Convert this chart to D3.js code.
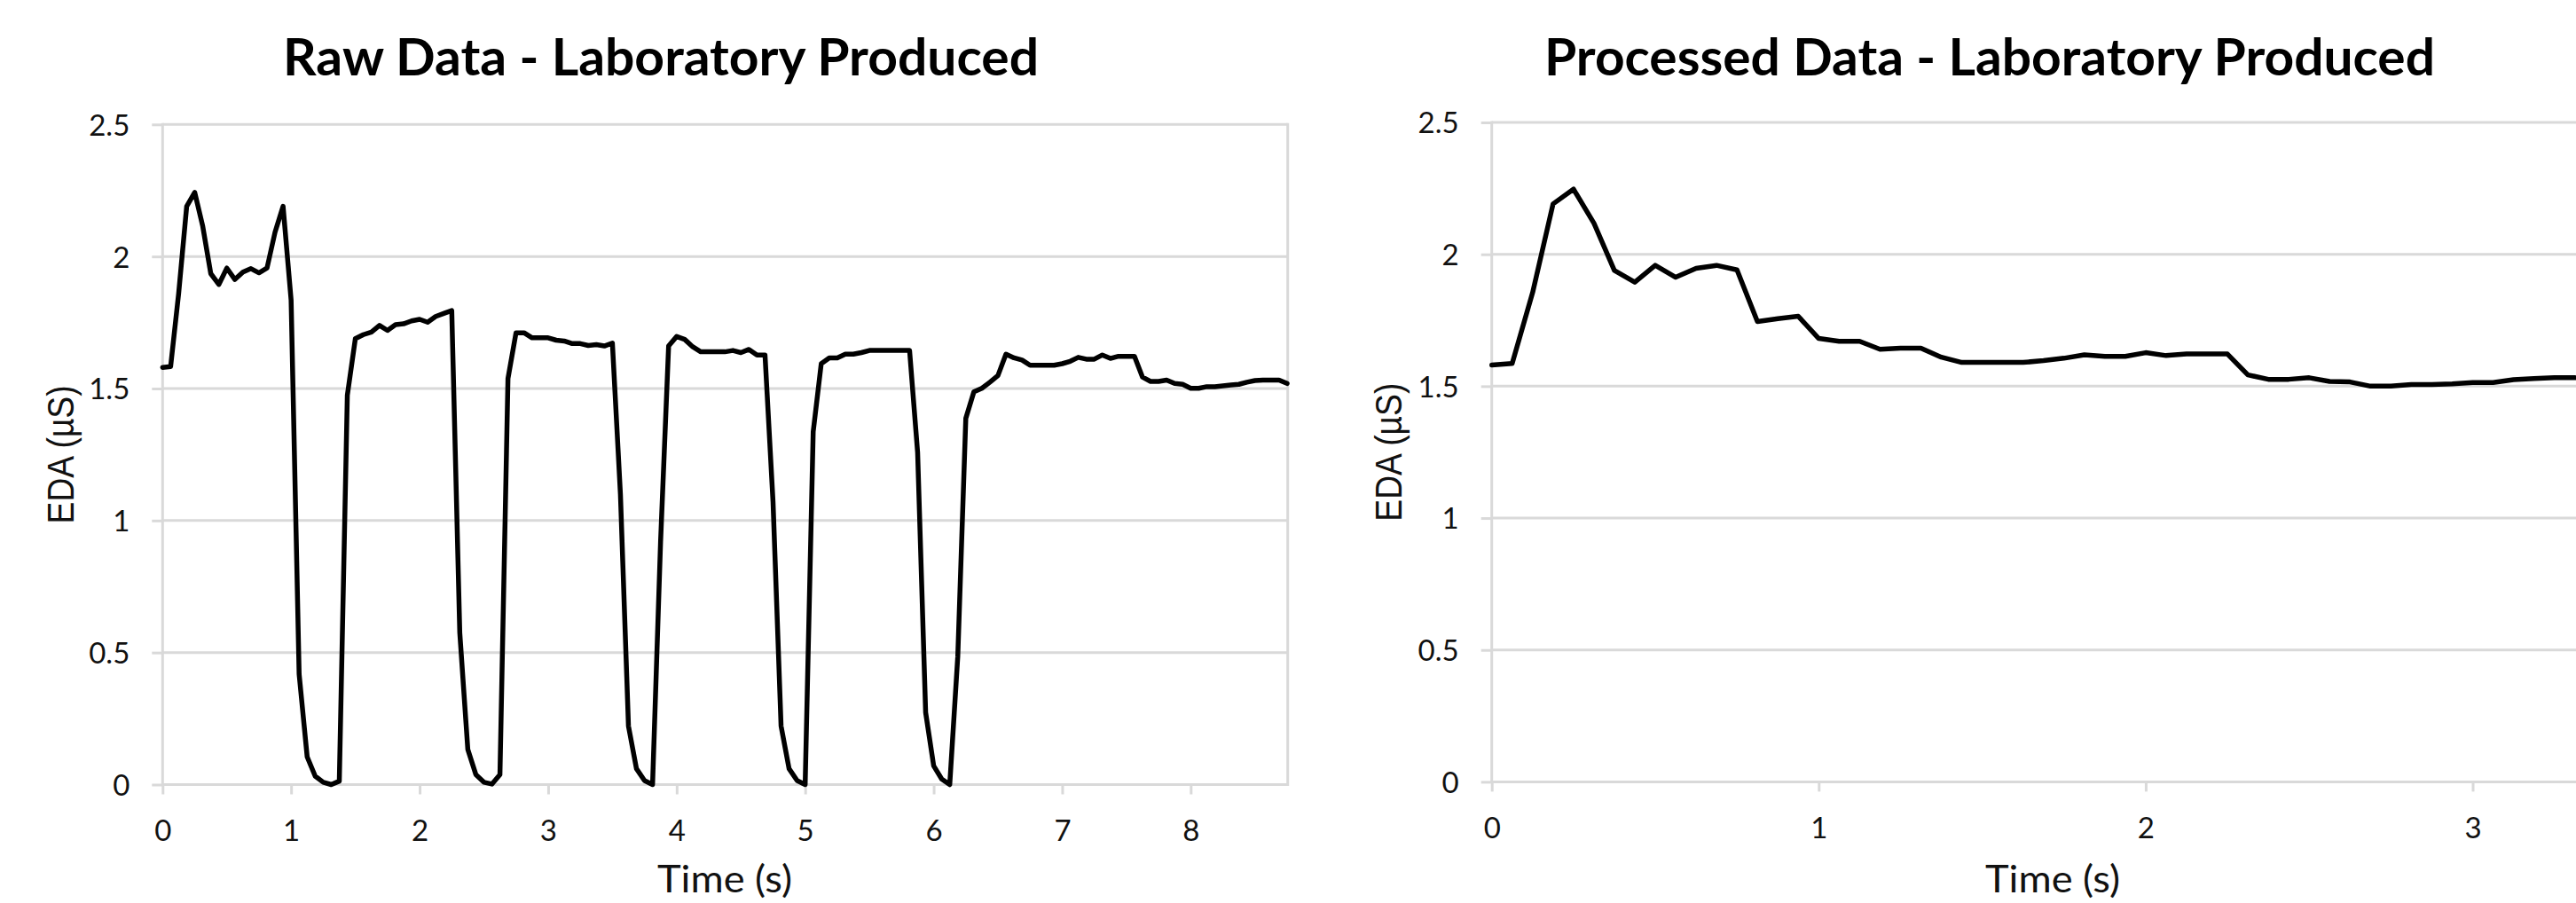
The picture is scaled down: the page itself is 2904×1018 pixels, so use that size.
<!DOCTYPE html>
<html>
<head>
<meta charset="utf-8">
<script src="https://cdn.jsdelivr.net/npm/d3@7"></script>
<style>
  html, body { margin: 0; padding: 0; background: #ffffff; overflow: hidden; }
  svg { display: block; }
</style>
</head>
<body>
<svg id="chart" width="2904" height="1018"></svg>
<script>
// ---------------- DATA ----------------
const SAMPLE_INTERVAL = 0.0625; // seconds between samples (16 Hz)

const rawTitle = "Raw Data - Laboratory Produced";
const processedTitle = "Processed Data - Laboratory Produced";
const xAxisTitle = "Time (s)";
const yAxisTitle = "EDA (\u00b5S)";

const yTicks = [0, 0.5, 1, 1.5, 2, 2.5];
const rawXTicks = [0, 1, 2, 3, 4, 5, 6, 7, 8];
const processedXTicks = [0, 1, 2, 3];

const rawEDA = [
  1.580, 1.583, 1.860, 2.190, 2.243, 2.114, 1.935, 1.894, 1.956, 1.913,
  1.941, 1.954, 1.938, 1.956, 2.092, 2.190, 1.835, 0.418, 0.105, 0.032,
  0.009, 0.000, 0.013, 1.474, 1.689, 1.704, 1.714, 1.739, 1.720, 1.742,
  1.745, 1.756, 1.762, 1.751, 1.773, 1.784, 1.795, 0.575, 0.133, 0.038,
  0.009, 0.002, 0.038, 1.538, 1.711, 1.711, 1.692, 1.692, 1.692, 1.683,
  1.680, 1.670, 1.670, 1.663, 1.666, 1.661, 1.672, 1.100, 0.222, 0.060,
  0.015, 0.000, 0.920, 1.661, 1.697, 1.686, 1.658, 1.639, 1.639, 1.639,
  1.639, 1.644, 1.636, 1.648, 1.627, 1.627, 1.070, 0.222, 0.060, 0.015,
  0.000, 1.336, 1.594, 1.616, 1.616, 1.630, 1.630, 1.636, 1.644, 1.644,
  1.644, 1.644, 1.644, 1.644, 1.258, 0.273, 0.071, 0.021, 0.000, 0.485,
  1.387, 1.487, 1.501, 1.524, 1.549, 1.630, 1.616, 1.608, 1.588, 1.588,
  1.588, 1.588, 1.594, 1.603, 1.618, 1.611, 1.611, 1.627, 1.614, 1.622,
  1.622, 1.622, 1.543, 1.527, 1.527, 1.532, 1.519, 1.516, 1.501, 1.501,
  1.507, 1.507, 1.510, 1.513, 1.516, 1.524, 1.530, 1.532, 1.532, 1.532,
  1.519
];

const processedEDA = [
  1.580, 1.586, 1.855, 2.191, 2.247, 2.118, 1.939, 1.894, 1.958, 1.913,
  1.947, 1.958, 1.941, 1.745, 1.756, 1.765, 1.681, 1.670, 1.670, 1.640,
  1.644, 1.644, 1.610, 1.590, 1.590, 1.590, 1.590, 1.597, 1.606, 1.619,
  1.613, 1.613, 1.627, 1.616, 1.622, 1.622, 1.622, 1.543, 1.526, 1.526,
  1.532, 1.518, 1.516, 1.500, 1.500, 1.506, 1.506, 1.509, 1.514, 1.514,
  1.525, 1.529, 1.532, 1.532
];

// ---------------- DRAW ----------------
const svg = d3.select("#chart");
const GRID = "#d9d9d9";
const TEXT = "#111111";

function drawChart(cfg) {
  const g = svg.append("g");
  const x = d3.scaleLinear().domain(cfg.xDomain).range([cfg.left, cfg.right]);
  const y = d3.scaleLinear().domain([0, 2.5]).range([cfg.bottom, cfg.top]);

  // horizontal gridlines
  g.append("g").selectAll("line").data(yTicks).join("line")
    .attr("x1", cfg.left).attr("x2", cfg.right)
    .attr("y1", d => y(d)).attr("y2", d => y(d))
    .attr("stroke", GRID).attr("stroke-width", 3);

  // vertical axis line
  g.append("line")
    .attr("x1", cfg.left).attr("x2", cfg.left)
    .attr("y1", y(2.5) - 1.5).attr("y2", y(0) + 1.5)
    .attr("stroke", GRID).attr("stroke-width", 3);

  if (cfg.rightBorder) {
    g.append("line")
      .attr("x1", cfg.right).attr("x2", cfg.right)
      .attr("y1", y(2.5) - 1.5).attr("y2", y(0) + 1.5)
      .attr("stroke", GRID).attr("stroke-width", 3);
  }

  // y axis
  const yAxis = g.append("g")
    .attr("transform", `translate(${cfg.left},0)`)
    .call(d3.axisLeft(y).tickValues(yTicks).tickSize(12).tickPadding(25)
      .tickFormat(d => String(d)));
  yAxis.select(".domain").remove();
  yAxis.selectAll(".tick line").attr("stroke", GRID).attr("stroke-width", 3);
  yAxis.selectAll(".tick text")
    .attr("fill", TEXT).attr("font-family", "Lato, 'Open Sans', sans-serif")
    .attr("font-size", 33).attr("dy", "0.36em");

  // x axis
  const xAxis = g.append("g")
    .attr("transform", `translate(0,${cfg.bottom})`)
    .call(d3.axisBottom(x).tickValues(cfg.xTicks).tickSize(11).tickPadding(29)
      .tickFormat(d => String(d)));
  xAxis.select(".domain").remove();
  xAxis.selectAll(".tick line").attr("stroke", GRID).attr("stroke-width", 3);
  xAxis.selectAll(".tick text")
    .attr("fill", TEXT).attr("font-family", "Lato, 'Open Sans', sans-serif")
    .attr("font-size", 33);

  // data line
  const line = d3.line()
    .x((d, i) => x(i * SAMPLE_INTERVAL))
    .y(d => y(d));
  g.append("path")
    .datum(cfg.values)
    .attr("d", line)
    .attr("fill", "none")
    .attr("stroke", "#000")
    .attr("stroke-width", 5.5)
    .attr("stroke-linejoin", "round")
    .attr("stroke-linecap", "round");

  // title
  g.append("text")
    .attr("x", cfg.titleX).attr("y", 85)
    .attr("text-anchor", "middle")
    .attr("font-family", "Lato, 'Open Sans', sans-serif")
    .attr("font-weight", 700)
    .attr("font-size", 57)
    .attr("fill", "#000")
    .attr("textLength", cfg.titleLen)
    .attr("lengthAdjust", "spacingAndGlyphs")
    .text(cfg.title);

  // x axis title
  g.append("text")
    .attr("x", cfg.xTitleX).attr("y", 1006)
    .attr("text-anchor", "middle")
    .attr("font-family", "Lato, 'Open Sans', sans-serif")
    .attr("font-size", 42)
    .attr("fill", TEXT)
    .attr("textLength", 152)
    .attr("lengthAdjust", "spacingAndGlyphs")
    .text(xAxisTitle);

  // y axis title
  g.append("text")
    .attr("transform", `translate(${cfg.yTitleX},${(y(0) + y(2.5)) / 2}) rotate(-90)`)
    .attr("text-anchor", "middle")
    .attr("dy", "0.35em")
    .attr("font-family", "'Liberation Sans', Arial, sans-serif")
    .attr("font-size", 42)
    .attr("fill", TEXT)
    .attr("textLength", 156)
    .attr("lengthAdjust", "spacingAndGlyphs")
    .text(yAxisTitle);
}

drawChart({
  values: rawEDA, title: rawTitle, titleX: 745, titleLen: 852,
  left: 183.3, right: 1451.7, top: 140.3, bottom: 884.5,
  xDomain: [0, 8.755], xTicks: rawXTicks, rightBorder: true,
  xTitleX: 817, yTitleX: 68
});

drawChart({
  values: processedEDA, title: processedTitle, titleX: 2243, titleLen: 1004,
  left: 1681.7, right: 1681.7 + 3.5 * 368.6, top: 138, bottom: 881.4,
  xDomain: [0, 3.5], xTicks: processedXTicks, rightBorder: false,
  xTitleX: 2314, yTitleX: 1565
});
</script>
</body>
</html>
